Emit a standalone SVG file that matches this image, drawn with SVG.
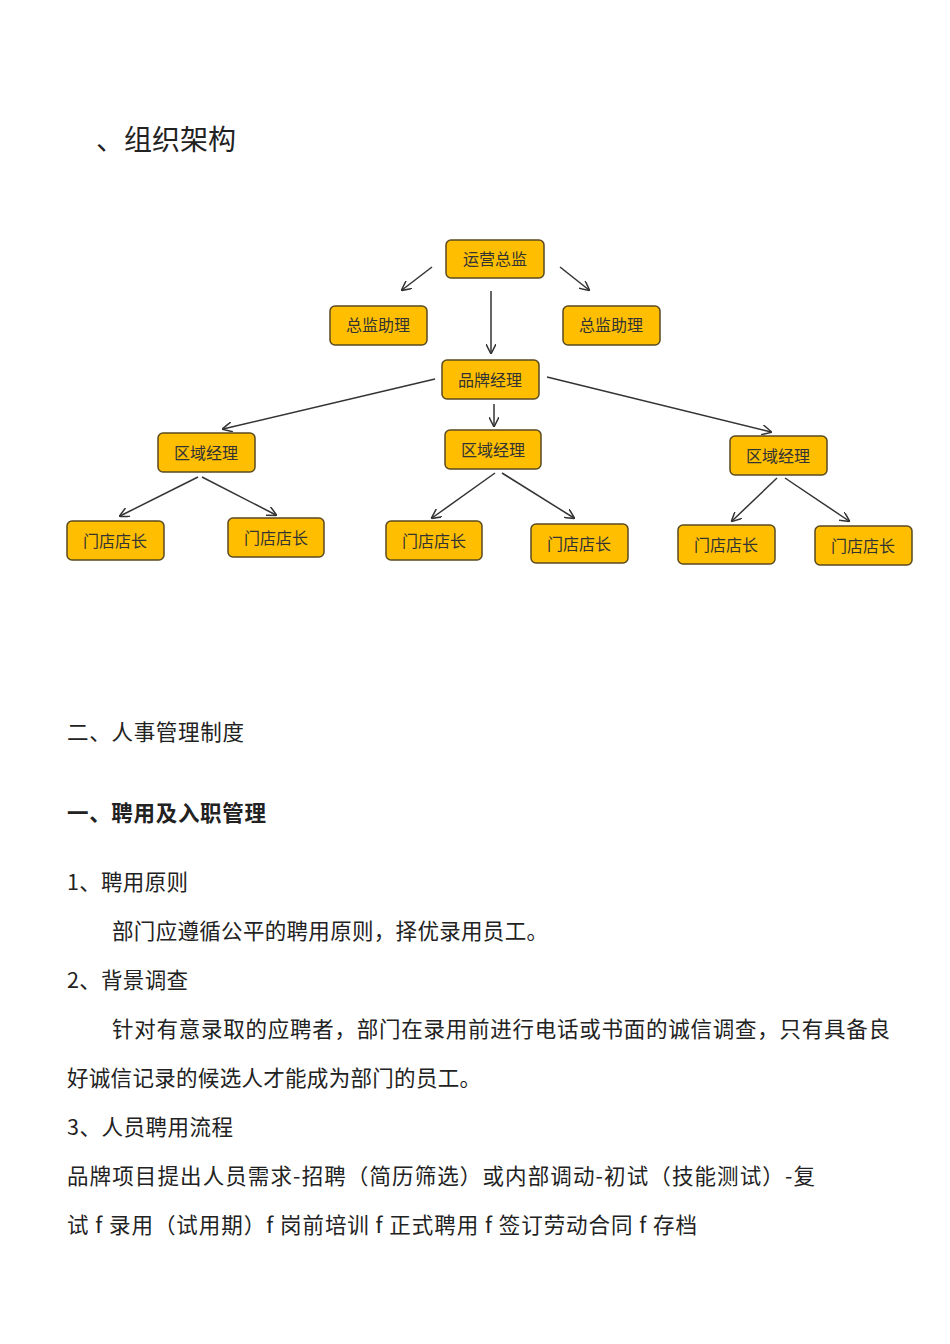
<svg xmlns="http://www.w3.org/2000/svg" width="950" height="1344" viewBox="0 0 950 1344">
<style>
.n rect{fill:#FFBF00;stroke:#5a4a20;stroke-width:1.5}
.n text{font-family:"Noto Sans CJK SC",sans-serif;font-size:16px;fill:#333;text-anchor:middle}
.c line{stroke:#333;stroke-width:1.5;marker-end:url(#a)}
.t{font-family:"Noto Sans CJK SC",sans-serif;font-size:21.5px;fill:#222}
</style>
<defs><marker id="a" viewBox="0 0 10 10" refX="9" refY="5" markerWidth="10" markerHeight="10" markerUnits="userSpaceOnUse" orient="auto"><path d="M0,0L10,5L0,10" fill="none" stroke="#333" stroke-width="1.5"/></marker></defs>
<rect width="950" height="1344" fill="#fff"/>
<text class="t" x="96" y="150" style="font-size:28px">、组织架构</text>
<g class="c">
<line x1="432" y1="267" x2="402" y2="290"/><line x1="560" y1="267" x2="589" y2="290"/>
<line x1="491" y1="291" x2="491" y2="353"/><line x1="435" y1="379" x2="223" y2="429"/>
<line x1="494" y1="404" x2="494" y2="426"/><line x1="547" y1="377" x2="771" y2="432"/>
<line x1="198" y1="477" x2="120" y2="516"/><line x1="202" y1="477" x2="276" y2="515"/>
<line x1="495" y1="473" x2="432" y2="518"/><line x1="502" y1="473" x2="574" y2="518"/>
<line x1="777" y1="478" x2="732" y2="521"/><line x1="785" y1="478" x2="849" y2="521"/>
</g>
<g id="n1" class="n"><rect x="446" y="240" width="98" height="38" rx="5"/><text x="495" y="265">运营总监</text></g>
<g id="n2" class="n"><rect x="330" y="306" width="97" height="39" rx="5"/><text x="378" y="331">总监助理</text></g>
<g id="n3" class="n"><rect x="563" y="306" width="97" height="39" rx="5"/><text x="611" y="331">总监助理</text></g>
<g id="n4" class="n"><rect x="442" y="360" width="97" height="39" rx="5"/><text x="490" y="386">品牌经理</text></g>
<g id="n5" class="n"><rect x="158" y="433" width="97" height="39" rx="5"/><text x="206" y="459">区域经理</text></g>
<g id="n6" class="n"><rect x="445" y="430" width="96" height="39" rx="5"/><text x="493" y="456">区域经理</text></g>
<g id="n7" class="n"><rect x="730" y="436" width="97" height="39" rx="5"/><text x="778" y="462">区域经理</text></g>
<g id="n8" class="n"><rect x="67" y="521" width="97" height="39" rx="5"/><text x="115" y="547">门店店长</text></g>
<g id="n9" class="n"><rect x="228" y="518" width="96" height="39" rx="5"/><text x="276" y="544">门店店长</text></g>
<g id="n10" class="n"><rect x="386" y="521" width="96" height="39" rx="5"/><text x="434" y="547">门店店长</text></g>
<g id="n11" class="n"><rect x="531" y="524" width="97" height="39" rx="5"/><text x="579" y="550">门店店长</text></g>
<g id="n12" class="n"><rect x="678" y="525" width="97" height="39" rx="5"/><text x="726" y="551">门店店长</text></g>
<g id="n13" class="n"><rect x="815" y="526" width="97" height="39" rx="5"/><text x="863" y="552">门店店长</text></g>
<text class="t" x="67" y="740" textLength="177">二、人事管理制度</text>
<text class="t" x="67" y="821" font-weight="bold" textLength="199">一、聘用及入职管理</text>
<text class="t" x="67" y="890" textLength="121">1、聘用原则</text>
<text class="t" x="112" y="939" textLength="436">部门应遵循公平的聘用原则，择优录用员工。</text>
<text class="t" x="67" y="988" textLength="121">2、背景调查</text>
<text class="t" x="112" y="1037" textLength="778">针对有意录取的应聘者，部门在录用前进行电话或书面的诚信调查，只有具备良</text>
<text class="t" x="67" y="1086" textLength="414">好诚信记录的候选人才能成为部门的员工。</text>
<text class="t" x="67" y="1135" textLength="166">3、人员聘用流程</text>
<text class="t" x="67" y="1184" textLength="748">品牌项目提出人员需求-招聘（简历筛选）或内部调动-初试（技能测试）-复</text>
<text class="t" x="67" y="1233" textLength="630">试 f 录用（试用期）f 岗前培训 f 正式聘用 f 签订劳动合同 f 存档</text>
</svg>
